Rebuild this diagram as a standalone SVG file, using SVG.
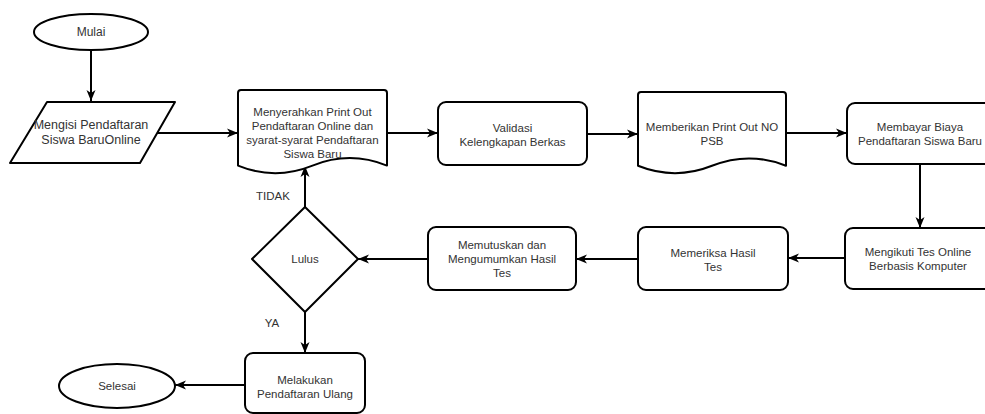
<svg xmlns="http://www.w3.org/2000/svg" width="985" height="414" viewBox="0 0 985 414">
<style>
.s{fill:#fff;stroke:#000;stroke-width:2;stroke-linejoin:round}
.t{font-family:"Liberation Sans",Arial,sans-serif;font-size:11.5px;fill:#333;text-anchor:middle}
.tb{font-size:12.5px}
.c{fill:none;stroke:#000;stroke-width:2;marker-end:url(#ah)}
</style>
<defs>
<marker id="ah" markerUnits="userSpaceOnUse" markerWidth="12" markerHeight="10" refX="11" refY="5" orient="auto">
<path d="M0,0.5 L11,5 L0,9.5 L3,5 Z" fill="#000"/>
</marker>
</defs>
<rect width="985" height="414" fill="#fff"/>
<g id="connectors">
<path class="c" d="M91,50 L91,101"/>
<path class="c" d="M157,133 L238,133"/>
<path class="c" d="M387,133 L438,133"/>
<path class="c" d="M587,134 L638,134"/>
<path class="c" d="M786,133 L847,133"/>
<path class="c" d="M920,164 L920,228"/>
<path class="c" d="M845,258 L788,258"/>
<path class="c" d="M638,259 L576,259"/>
<path class="c" d="M428,259 L358,259"/>
<path class="c" d="M305,207 L305,166"/>
<path class="c" d="M305,312 L305,353"/>
<path class="c" d="M245,385 L175,385"/>
<text class="t" x="273" y="200">TIDAK</text>
<text class="t" x="272" y="327">YA</text>
</g>
<g id="mulai">
<ellipse class="s" cx="91" cy="32" rx="57" ry="18"/>
<text class="t" style="font-size:12px" x="91" y="36">Mulai</text>
</g>
<g id="mengisi">
<path class="s" d="M47,102 L175,102 L140,163 L10,163 Z"/>
<text class="t tb" x="91" y="129">Mengisi Pendaftaran</text>
<text class="t tb" x="91" y="144">Siswa BaruOnline</text>
</g>
<g id="menyerahkan">
<path class="s" d="M238,93 Q238,90 241,90 L384,90 Q387,90 387,93 L387,165.6 Q349.75,150.5 312.5,165.6 Q275.25,180.7 238,165.6 Z"/>
<text class="t" x="312.5" y="116">Menyerahkan Print Out</text>
<text class="t" x="312.5" y="130">Pendaftaran Online dan</text>
<text class="t" x="312.5" y="144">syarat-syarat Pendaftaran</text>
<text class="t" x="312.5" y="158">Siswa Baru</text>
</g>
<g id="validasi">
<rect class="s" x="438" y="102" width="149" height="63" rx="8"/>
<text class="t" x="512.5" y="132">Validasi</text>
<text class="t" x="512.5" y="146">Kelengkapan Berkas</text>
</g>
<g id="memberikan">
<path class="s" d="M638,95 Q638,92 641,92 L783,92 Q786,92 786,95 L786,165.8 Q749,151 712,165.8 Q675,180.6 638,165.8 Z"/>
<text class="t" x="712" y="131">Memberikan Print Out NO</text>
<text class="t" x="712" y="145">PSB</text>
</g>
<g id="membayar">
<rect class="s" x="847" y="103" width="146" height="61" rx="8"/>
<text class="t" x="920" y="131">Membayar Biaya</text>
<text class="t" x="920" y="145">Pendaftaran Siswa Baru</text>
</g>
<g id="mengikuti">
<rect class="s" x="845" y="228" width="148" height="61" rx="8"/>
<text class="t" x="918" y="256">Mengikuti Tes Online</text>
<text class="t" x="918" y="270">Berbasis Komputer</text>
</g>
<g id="memeriksa">
<rect class="s" x="638" y="227" width="150" height="63" rx="8"/>
<text class="t" x="713" y="257">Memeriksa Hasil</text>
<text class="t" x="713" y="271">Tes</text>
</g>
<g id="memutuskan">
<rect class="s" x="428" y="227" width="148" height="63" rx="8"/>
<text class="t" x="502" y="249">Memutuskan dan</text>
<text class="t" x="502" y="263">Mengumumkan Hasil</text>
<text class="t" x="502" y="277">Tes</text>
</g>
<g id="lulus">
<path class="s" d="M305,207 L358,259 L305,312 L252,259 Z"/>
<text class="t" x="305" y="263">Lulus</text>
</g>
<g id="melakukan">
<rect class="s" x="245" y="353" width="120" height="60" rx="8"/>
<text class="t" x="305" y="384">Melakukan</text>
<text class="t" x="305" y="398">Pendaftaran Ulang</text>
</g>
<g id="selesai">
<ellipse class="s" cx="117" cy="386" rx="58" ry="22"/>
<text class="t" x="117" y="390">Selesai</text>
</g>
</svg>
